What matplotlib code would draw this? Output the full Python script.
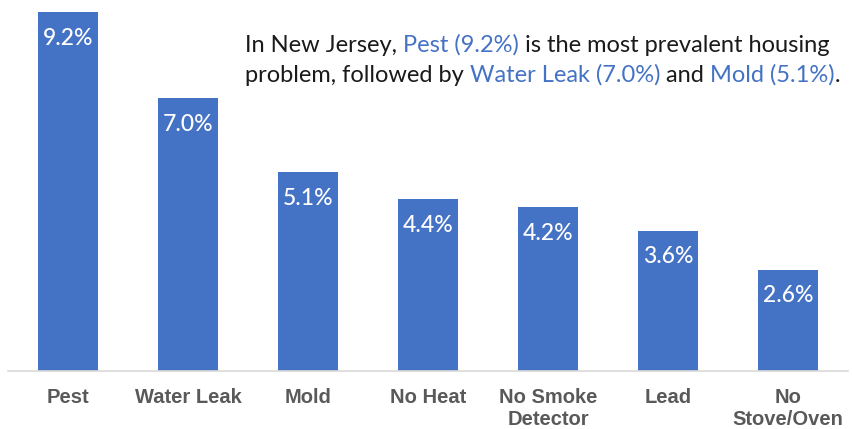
import matplotlib
matplotlib.use("Agg")
import matplotlib.pyplot as plt

categories = ["Pest", "Water Leak", "Mold", "No Heat", "No Smoke\nDetector", "Lead", "No\nStove/Oven"]
values = [9.2, 7.0, 5.1, 4.4, 4.2, 3.6, 2.6]
value_labels = ["9.2%", "7.0%", "5.1%", "4.4%", "4.2%", "3.6%", "2.6%"]

BLUE = "#4472C4"
W, H = 852, 429
fig = plt.figure(figsize=(W / 100, H / 100), dpi=100)
ax = fig.add_axes([8 / W, 1 - 371 / H, 840 / W, (371 - 12) / H])

x = list(range(len(categories)))
ax.bar(x, values, width=0.5, color=BLUE, zorder=2)
ax.set_xlim(-0.5, len(categories) - 0.5)
ax.set_ylim(0, 9.2)
for s in ["top", "right", "left"]:
    ax.spines[s].set_visible(False)
ax.spines["bottom"].set_color("#d9d9d9")
ax.spines["bottom"].set_linewidth(1.2)
ax.set_yticks([])
ax.set_xticks(x)
ax.set_xticklabels(categories, fontsize=14.5, fontweight="bold", color="#595959",
                   family="Liberation Sans", linespacing=1.2)
ax.tick_params(axis="x", length=0, pad=12)

for xi, v, lab in zip(x, values, value_labels):
    ax.annotate(lab, (xi, v), xytext=(0, -19), textcoords="offset points",
                ha="center", va="center", color="white", fontsize=16.5, family="Lato",
                fontweight="medium")

# mixed-color annotation
lines = [
    [("In New Jersey, ", "#1a1a1a"), ("Pest (9.2%)", BLUE), (" is the most prevalent housing", "#1a1a1a")],
    [("problem, followed by ", "#1a1a1a"), ("Water Leak (7.0%)", BLUE), (" and ", "#1a1a1a"),
     ("Mold (5.1%)", BLUE), (".", "#1a1a1a")],
]
fig.canvas.draw()
renderer = fig.canvas.get_renderer()
baselines = [52, 82]
for line, by in zip(lines, baselines):
    xp = 245
    for txt, col in line:
        t = fig.text(xp / W, 1 - by / H, txt, color=col, fontsize=17, family="Lato",
                     ha="left", va="baseline")
        bb = t.get_window_extent(renderer=renderer)
        xp += bb.width

fig.savefig("out.png", dpi=100)
